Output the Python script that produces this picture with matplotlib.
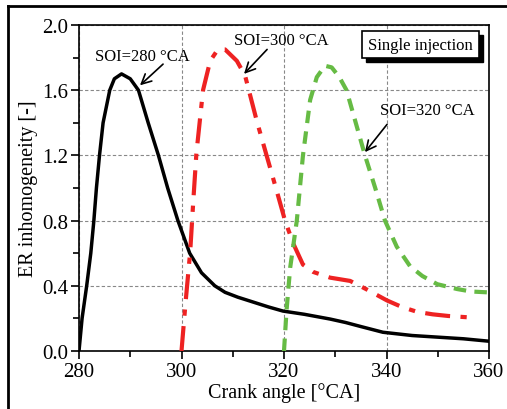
import numpy as np
import matplotlib
matplotlib.use('Agg')
import matplotlib.pyplot as plt
from matplotlib.lines import Line2D
from matplotlib.patches import Rectangle

plt.rcParams['font.family'] = ['Liberation Serif', 'DejaVu Serif']

# data (crank angle, ER inhomogeneity)
soi280_x = [280, 280.6, 281.5, 282.3, 282.9, 283.4, 284.0, 284.7, 286.0, 286.9, 288.3, 290.0,
            291.6, 293.5, 295.5, 297.3, 299.3, 301.6, 303.9, 306.5, 308.5, 311, 314, 317, 319.8,
            324, 329, 332, 335, 339.3, 345, 350, 355, 360]
soi280_y = [0.0, 0.2, 0.4, 0.6, 0.8, 1.0, 1.2, 1.4, 1.6, 1.67, 1.70, 1.67,
            1.6, 1.4, 1.2, 1.0, 0.8, 0.6, 0.48, 0.40, 0.36, 0.33, 0.30, 0.27, 0.245,
            0.225, 0.196, 0.175, 0.15, 0.115, 0.095, 0.085, 0.075, 0.06]

soi300_x = [300, 300.8, 301.7, 302.3, 302.9, 304.2, 305.6, 307.1, 308.5, 310.8, 312.4, 314.7,
            316.6, 318.6, 320.2, 321.8, 323.7, 325.7, 329, 332.9, 336, 340.1, 343, 346, 349, 352, 356.7]
soi300_y = [0.0, 0.3, 0.61, 0.92, 1.21, 1.60, 1.78, 1.85, 1.85, 1.78, 1.69, 1.41,
            1.20, 0.98, 0.80, 0.66, 0.53, 0.485, 0.45, 0.43, 0.38, 0.31, 0.27, 0.24, 0.225, 0.215, 0.205]

soi320_x = [320, 320.5, 321.2, 322.5, 323.7, 325.1, 326.4, 328.0, 329.3, 330.8, 332.2, 334.0,
            335.8, 337.8, 339.7, 342, 344.6, 347, 349.9, 353.8, 356.5, 359.6]
soi320_y = [0.0, 0.25, 0.51, 0.80, 1.20, 1.54, 1.68, 1.75, 1.74, 1.68, 1.6, 1.40,
            1.2, 1.0, 0.80, 0.64, 0.52, 0.46, 0.41, 0.38, 0.365, 0.36]

fig = plt.figure(figsize=(5.07, 4.10), dpi=100)
ax = fig.add_axes([79/507, 1-352/410, 410/507, 326/410])

ax.plot(soi280_x, soi280_y, color='black', lw=2.5, zorder=3, solid_joinstyle='round')
ax.plot(soi300_x, soi300_y, color='#ee2222', lw=3, dashes=(6, 2.5, 1.5, 2.5), zorder=3)
ax.plot(soi320_x, soi320_y, color='#66bb44', lw=3, dashes=(3, 2), zorder=3)

ax.set_xlim(280, 360)
ax.set_ylim(0, 2.0)
ax.set_xticks([280, 300, 320, 340, 360])
ax.set_xticks([290, 310, 330, 350], minor=True)
ax.set_yticks([0.0, 0.4, 0.8, 1.2, 1.6, 2.0])
ax.set_yticks([0.2, 0.6, 1.0, 1.4, 1.8], minor=True)
ax.set_yticklabels(['0.0', '0.4', '0.8', '1.2', '1.6', '2.0'])
ax.tick_params(which='both', direction='out', labelsize=15, width=1.2, pad=2)
ax.tick_params(which='major', length=6)
ax.tick_params(which='minor', length=4)
ax.grid(True, which='major', color='#888888', ls=(0, (3, 2)), lw=0.8)
for s in ax.spines.values():
    s.set_linewidth(1.2)

ax.set_xlabel('Crank angle [°CA]', fontsize=14.5, labelpad=1)
ax.set_ylabel('ER inhomogeneity [-]', fontsize=14.5, labelpad=3)

arr = dict(arrowstyle='->,head_length=0.7,head_width=0.35', color='black', lw=1.2,
           shrinkA=0, shrinkB=0)
ax.text(292.4, 1.81, 'SOI=280 °CA', fontsize=12, ha='center', va='center')
ax.annotate('', xy=(291.9, 1.63), xytext=(296.4, 1.76), arrowprops=arr)
ax.text(319.4, 1.91, 'SOI=300 °CA', fontsize=12, ha='center', va='center')
ax.annotate('', xy=(312.2, 1.70), xytext=(316.7, 1.85), arrowprops=arr)
ax.text(347.9, 1.48, 'SOI=320 °CA', fontsize=12, ha='center', va='center')
ax.annotate('', xy=(335.8, 1.22), xytext=(340.1, 1.39), arrowprops=arr)

# "Single injection" box with drop shadow
bx, by, bw, bh = (362-79)/410, (352-59)/326, 117/410, 27/326
ax.add_patch(Rectangle((bx + 4/410, by - 4/326), bw, bh, transform=ax.transAxes,
                       fc='black', ec='black', zorder=4))
ax.add_patch(Rectangle((bx, by), bw, bh, transform=ax.transAxes,
                       fc='white', ec='black', lw=1.2, zorder=5))
ax.text(bx + bw/2, by + bh/2, 'Single injection', transform=ax.transAxes, fontsize=12,
        ha='center', va='center', zorder=6)

# outer frame lines
fig.add_artist(Line2D([8/507, 8/507], [0, 1-7/410], color='black', lw=2))
fig.add_artist(Line2D([8/507, 1], [1-7/410, 1-7/410], color='black', lw=2))

fig.savefig('out.png', dpi=100)
